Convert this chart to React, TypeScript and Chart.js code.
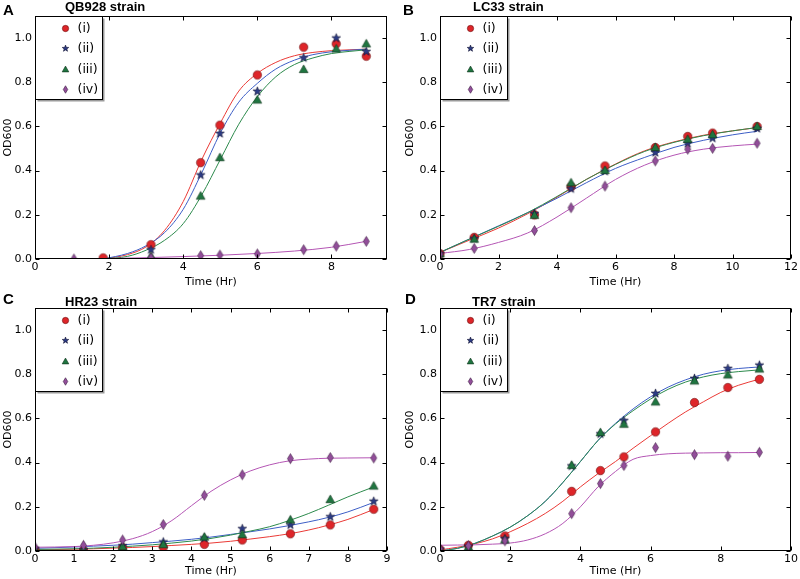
import React, { useEffect, useRef } from "react";
import { Chart, registerables } from "chart.js";
Chart.register(...registerables);

// ---------------- Panel A : QB928 strain ----------------
const A_TIME = [1.05, 1.84, 3.13, 4.47, 4.99, 6.0, 7.25, 8.13, 8.94];
const A_I = [null, 0.005, 0.065, 0.436, 0.606, 0.833, 0.959, 0.974, 0.918];
const A_II = [null, null, 0.042, 0.38, 0.568, 0.759, 0.911, 1.0, 0.939];
const A_III = [null, null, 0.012, 0.285, 0.459, 0.72, 0.858, 0.951, 0.974];
const A_IV = [0.0, null, 0.006, 0.015, 0.018, 0.023, 0.042, 0.058, 0.08];
const A_FIT_TIME = [1.84, 2.5, 3, 3.5, 4, 4.5, 5, 5.5, 6, 6.5, 7, 7.5, 8, 8.5, 8.94];
const A_FIT_I = [0.0, 0.02, 0.055, 0.13, 0.26, 0.45, 0.615, 0.76, 0.84, 0.89, 0.92, 0.935, 0.943, 0.947, 0.95];
const A_FIT_II = [0.0, 0.025, 0.06, 0.12, 0.225, 0.39, 0.57, 0.71, 0.795, 0.86, 0.9, 0.925, 0.938, 0.945, 0.95];
const A_FIT_III = [0.0, 0.012, 0.04, 0.085, 0.16, 0.29, 0.45, 0.61, 0.735, 0.825, 0.88, 0.91, 0.93, 0.94, 0.947];
const A_FIT_IV_TIME = [1.05, 2, 3, 4, 5, 6, 7, 8, 8.94];
const A_FIT_IV = [0.0, 0.002, 0.006, 0.011, 0.017, 0.025, 0.036, 0.053, 0.08];

// ---------------- Panel B : LC33 strain ----------------
const B_TIME = [0, 1.17, 3.23, 4.48, 5.64, 7.36, 8.47, 9.32, 10.84];
const B_I = [0.024, 0.098, 0.2, 0.327, 0.421, 0.505, 0.555, 0.57, 0.6];
const B_II = [0.024, 0.092, 0.205, 0.318, 0.397, 0.482, 0.523, 0.547, 0.591];
const B_III = [0.024, 0.09, 0.198, 0.345, 0.401, 0.505, 0.542, 0.563, 0.6];
const B_IV = [0.022, 0.048, 0.129, 0.232, 0.33, 0.444, 0.497, 0.501, 0.524];
const B_FIT_TIME = [0, 1, 2, 3, 4, 5, 6, 7, 8, 9, 10, 10.84];
const B_FIT_I = [0.03, 0.085, 0.14, 0.205, 0.28, 0.36, 0.43, 0.49, 0.53, 0.56, 0.58, 0.595];
const B_FIT_II = [0.03, 0.09, 0.15, 0.21, 0.275, 0.345, 0.41, 0.46, 0.505, 0.537, 0.562, 0.578];
const B_FIT_III = [0.03, 0.09, 0.148, 0.21, 0.283, 0.36, 0.428, 0.487, 0.528, 0.558, 0.58, 0.595];
const B_FIT_IV = [0.025, 0.043, 0.075, 0.118, 0.19, 0.275, 0.36, 0.425, 0.47, 0.497, 0.512, 0.52];

// ---------------- Panel C : HR23 strain ----------------
const C_TIME = [0, 1.24, 2.24, 3.28, 4.33, 5.3, 6.53, 7.55, 8.66];
const C_I = [0.003, 0.002, 0.015, 0.017, 0.03, 0.05, 0.078, 0.118, 0.189];
const C_II = [0.01, 0.006, 0.023, 0.041, 0.059, 0.101, 0.118, 0.155, 0.225];
const C_III = [0.008, 0.005, 0.02, 0.029, 0.063, 0.074, 0.141, 0.233, 0.294];
const C_IV = [0.018, 0.026, 0.05, 0.12, 0.252, 0.345, 0.418, 0.423, 0.421];
const C_FIT_TIME = [0, 1, 1.5, 2, 2.5, 3, 3.5, 4, 4.5, 5, 5.5, 6, 6.5, 7, 7.5, 8, 8.66];
const C_FIT_I = [0.005, 0.008, 0.01, 0.013, 0.016, 0.02, 0.025, 0.03, 0.036, 0.044, 0.054, 0.065, 0.078, 0.095, 0.117, 0.143, 0.188];
const C_FIT_II = [0.012, 0.018, 0.022, 0.026, 0.031, 0.038, 0.045, 0.053, 0.063, 0.075, 0.087, 0.1, 0.115, 0.132, 0.152, 0.177, 0.22];
const C_FIT_III = [0.007, 0.01, 0.013, 0.017, 0.022, 0.028, 0.036, 0.045, 0.057, 0.072, 0.09, 0.11, 0.138, 0.17, 0.207, 0.245, 0.29];
const C_FIT_IV = [0.017, 0.02, 0.026, 0.037, 0.056, 0.088, 0.138, 0.205, 0.27, 0.322, 0.362, 0.39, 0.408, 0.416, 0.42, 0.421, 0.422];

// ---------------- Panel D : TR7 strain ----------------
const D_TIME = [0, 0.81, 1.85, 3.75, 4.57, 5.24, 6.14, 7.25, 8.2, 9.1];
const D_I = [0.006, 0.026, 0.068, 0.27, 0.364, 0.426, 0.539, 0.672, 0.74, 0.777];
const D_II = [0.008, 0.021, 0.056, 0.385, 0.53, 0.59, 0.713, 0.781, 0.826, 0.841];
const D_III = [0.006, 0.018, 0.05, 0.388, 0.536, 0.574, 0.675, 0.77, 0.797, 0.824];
const D_IV = [0.01, 0.024, 0.046, 0.169, 0.305, 0.387, 0.468, 0.436, 0.429, 0.447];
const D_FIT_TIME = [0, 0.5, 1, 1.5, 2, 2.5, 3, 3.5, 4, 4.5, 5, 5.5, 6, 6.5, 7, 7.5, 8, 8.5, 9.1];
const D_FIT_I = [0.005, 0.017, 0.033, 0.055, 0.087, 0.125, 0.17, 0.225, 0.29, 0.35, 0.405, 0.465, 0.522, 0.578, 0.63, 0.675, 0.718, 0.75, 0.778];
const D_FIT_II = [0.0, 0.012, 0.035, 0.068, 0.108, 0.16, 0.225, 0.31, 0.405, 0.5, 0.578, 0.643, 0.698, 0.742, 0.775, 0.8, 0.816, 0.826, 0.833];
const D_FIT_III = [0.0, 0.012, 0.035, 0.068, 0.108, 0.16, 0.225, 0.31, 0.405, 0.5, 0.575, 0.635, 0.688, 0.732, 0.765, 0.788, 0.803, 0.812, 0.82];
const D_FIT_IV = [0.026, 0.027, 0.028, 0.031, 0.036, 0.05, 0.078, 0.125, 0.2, 0.29, 0.36, 0.415, 0.432, 0.44, 0.443, 0.444, 0.445, 0.445, 0.446];

// ---------------- labels ----------------
const SERIES_LABELS = ["(i)", "(ii)", "(iii)", "(iv)"];
const X_TITLE = "Time (Hr)";
const Y_TITLE = "OD600";
const Y_MAX = 1.1;
const Y_STEP = 0.2;

const LINE_COLORS = ["#ea3a36", "#3d5ec6", "#2c8a4c", "#b455b4"];
const MARKER_FILLS = ["#de2529", "#2c3c86", "#1f7540", "#924e9a"];
const MARKER_EDGES = ["#6a1010", "#101030", "#0c3018", "#3a1a40"];
const MARKER_KINDS = ["circle", "star", "triangle", "diamond"];

const TICK_FONT = "'DejaVu Sans', sans-serif";
const BOLD_FONT = "'Liberation Sans', Arial, sans-serif";

type Area = { l: number; t: number; r: number; b: number };
type PanelCfg = {
  left: number; top: number; w: number; h: number; area: Area;
  xMax: number; xStep: number;
  letter: string; letterX: number; letterY: number;
  title: string; titleX: number; titleY: number;
  time: number[]; series: (number | null)[][];
  fitTimes: number[][]; fits: number[][];
};

const PANELS: PanelCfg[] = [
  {
    left: 0, top: 0, w: 400, h: 290, area: { l: 35, t: 16, r: 387, b: 259 },
    xMax: 9.5, xStep: 2, letter: "A", letterX: 3, letterY: 15, title: "QB928 strain", titleX: 65, titleY: 11,
    time: A_TIME, series: [A_I, A_II, A_III, A_IV],
    fitTimes: [A_FIT_TIME, A_FIT_TIME, A_FIT_TIME, A_FIT_IV_TIME], fits: [A_FIT_I, A_FIT_II, A_FIT_III, A_FIT_IV],
  },
  {
    left: 400, top: 0, w: 400, h: 290, area: { l: 40, t: 16, r: 392, b: 259 },
    xMax: 12, xStep: 2, letter: "B", letterX: 3, letterY: 15, title: "LC33 strain", titleX: 73, titleY: 11,
    time: B_TIME, series: [B_I, B_II, B_III, B_IV],
    fitTimes: [B_FIT_TIME, B_FIT_TIME, B_FIT_TIME, B_FIT_TIME], fits: [B_FIT_I, B_FIT_II, B_FIT_III, B_FIT_IV],
  },
  {
    left: 0, top: 290, w: 400, h: 289, area: { l: 35, t: 18, r: 387, b: 261 },
    xMax: 9, xStep: 1, letter: "C", letterX: 3, letterY: 13.5, title: "HR23 strain", titleX: 65, titleY: 15.5,
    time: C_TIME, series: [C_I, C_II, C_III, C_IV],
    fitTimes: [C_FIT_TIME, C_FIT_TIME, C_FIT_TIME, C_FIT_TIME], fits: [C_FIT_I, C_FIT_II, C_FIT_III, C_FIT_IV],
  },
  {
    left: 400, top: 290, w: 400, h: 289, area: { l: 40, t: 18, r: 392, b: 261 },
    xMax: 10, xStep: 2, letter: "D", letterX: 5, letterY: 13.5, title: "TR7 strain", titleX: 72, titleY: 15.5,
    time: D_TIME, series: [D_I, D_II, D_III, D_IV],
    fitTimes: [D_FIT_TIME, D_FIT_TIME, D_FIT_TIME, D_FIT_TIME], fits: [D_FIT_I, D_FIT_II, D_FIT_III, D_FIT_IV],
  },
];

function makeMarker(kind: string, fill: string, edge: string, s: number): HTMLCanvasElement {
  const c = document.createElement("canvas");
  c.width = 13; c.height = 13;
  const g = c.getContext("2d")!;
  const cx = 6.5, cy = 6.5;
  g.beginPath();
  if (kind === "circle") {
    g.arc(cx, cy, 4.2 * s, 0, Math.PI * 2);
  } else if (kind === "star") {
    for (let k = 0; k < 10; k++) {
      const r = (k % 2 === 0 ? 4.6 : 1.9) * s;
      const a = -Math.PI / 2 + (k * Math.PI) / 5;
      const px = cx + r * Math.cos(a), py = cy + r * Math.sin(a);
      if (k === 0) g.moveTo(px, py); else g.lineTo(px, py);
    }
    g.closePath();
  } else if (kind === "triangle") {
    g.moveTo(cx, cy - 4.6 * s);
    g.lineTo(cx + 4.4 * s, cy + 3.2 * s);
    g.lineTo(cx - 4.4 * s, cy + 3.2 * s);
    g.closePath();
  } else {
    g.moveTo(cx, cy - 5 * s);
    g.lineTo(cx + 3 * s, cy);
    g.lineTo(cx, cy + 5 * s);
    g.lineTo(cx - 3 * s, cy);
    g.closePath();
  }
  g.fillStyle = fill;
  g.fill();
  g.lineWidth = 0.6;
  g.strokeStyle = edge;
  g.stroke();
  return c;
}

function Panel({ cfg }: { cfg: PanelCfg }) {
  const ref = useRef<HTMLCanvasElement>(null);
  useEffect(() => {
    const markers = MARKER_KINDS.map((k, i) => makeMarker(k, MARKER_FILLS[i], MARKER_EDGES[i], 1));
    const legendMarkers = MARKER_KINDS.map((k, i) => makeMarker(k, MARKER_FILLS[i], MARKER_EDGES[i], 0.75));
    const { area, w, h } = cfg;

    const markerSets: any[] = [];
    for (let i = 3; i >= 0; i--) {
      const pts = cfg.time
        .map((t, j) => ({ x: t, y: cfg.series[i][j] }))
        .filter((p) => p.y !== null && p.y !== undefined);
      markerSets.push({
        label: SERIES_LABELS[i],
        data: pts,
        showLine: false,
        pointStyle: markers[i],
        pointRadius: 4,
        pointHoverRadius: 4,
        clip: 0,
      });
    }
    const lineSets: any[] = [];
    for (let i = 3; i >= 0; i--) {
      lineSets.push({
        label: SERIES_LABELS[i] + " fit",
        data: cfg.fitTimes[i].map((t, j) => ({ x: t, y: cfg.fits[i][j] })),
        showLine: true,
        borderColor: LINE_COLORS[i],
        borderWidth: 1,
        pointRadius: 0,
        pointHoverRadius: 0,
        fill: false,
        cubicInterpolationMode: "monotone",
        clip: 0,
      });
    }

    const decor = {
      id: "decor",
      afterDatasetsDraw(chart: any) {
        const ctx = chart.ctx;
        const ca = chart.chartArea;
        const xs = chart.scales.x, ys = chart.scales.y;
        ctx.save();
        ctx.strokeStyle = "#000";
        ctx.lineWidth = 1;
        const L = Math.round(ca.left) + 0.5, R = Math.round(ca.right) - 0.5;
        const T = Math.round(ca.top) + 0.5, B = Math.round(ca.bottom) - 0.5;
        ctx.strokeRect(L, T, R - L, B - T);
        ctx.beginPath();
        xs.ticks.forEach((t: any) => {
          const px = Math.round(xs.getPixelForValue(t.value)) + 0.5;
          ctx.moveTo(px, B); ctx.lineTo(px, B - 4);
          ctx.moveTo(px, T); ctx.lineTo(px, T + 4);
        });
        ys.ticks.forEach((t: any) => {
          const py = Math.round(ys.getPixelForValue(t.value)) + 0.5;
          ctx.moveTo(L, py); ctx.lineTo(L + 4, py);
          ctx.moveTo(R, py); ctx.lineTo(R - 4, py);
        });
        ctx.stroke();

        // legend box
        const lx = L, ly = T, lw = 67, lh = 83;
        ctx.fillStyle = "#9a9a9a";
        ctx.fillRect(lx + 2, ly + 2, lw, lh);
        ctx.fillStyle = "#fff";
        ctx.fillRect(lx, ly, lw, lh);
        ctx.strokeStyle = "#000";
        ctx.strokeRect(lx, ly, lw, lh);
        ctx.font = `12.5px ${TICK_FONT}`;
        ctx.textBaseline = "middle";
        ctx.textAlign = "left";
        ctx.fillStyle = "#000";
        for (let i = 0; i < 4; i++) {
          const my = ly + 11.5 + 20.5 * i;
          const m = legendMarkers[i];
          ctx.drawImage(m, Math.round(lx + 30 - m.width / 2), Math.round(my - m.height / 2));
          ctx.fillText(SERIES_LABELS[i], lx + 42, my + 0.5);
        }

        // panel letter and title
        ctx.textBaseline = "alphabetic";
        ctx.font = `bold 15px ${BOLD_FONT}`;
        ctx.fillText(cfg.letter, cfg.letterX, cfg.letterY);
        ctx.font = `bold 13px ${BOLD_FONT}`;
        ctx.fillText(cfg.title, cfg.titleX, cfg.titleY);
        ctx.restore();
      },
    };

    const chart = new Chart(ref.current!, {
      type: "scatter",
      data: { datasets: [...markerSets, ...lineSets] },
      options: {
        animation: false,
        responsive: false,
        maintainAspectRatio: false,
        events: [],
        layout: { padding: { left: 0, top: area.t, right: w - area.r, bottom: 0 } },
        plugins: {
          legend: { display: false },
          tooltip: { enabled: false },
          title: { display: false },
        },
        scales: {
          x: {
            type: "linear",
            min: 0,
            max: cfg.xMax,
            grid: { display: false, drawTicks: false },
            border: { display: false },
            ticks: {
              stepSize: cfg.xStep,
              includeBounds: false,
              padding: 2,
              maxRotation: 0,
              autoSkip: false,
              color: "#000",
              font: { family: TICK_FONT, size: 11 },
              callback: (v: any) => String(Math.round(Number(v))),
            },
            title: {
              display: true,
              text: X_TITLE,
              color: "#000",
              font: { family: TICK_FONT, size: 11 },
              padding: { top: 0, bottom: 1.5 },
            },
            afterFit: (s: any) => { s.height = h - area.b; },
          },
          y: {
            type: "linear",
            min: 0,
            max: Y_MAX,
            grid: { display: false, drawTicks: false },
            border: { display: false },
            ticks: {
              stepSize: Y_STEP,
              includeBounds: false,
              padding: 3,
              autoSkip: false,
              color: "#000",
              font: { family: TICK_FONT, size: 11 },
              callback: (v: any) => Number(v).toFixed(1),
            },
            title: {
              display: true,
              text: Y_TITLE,
              color: "#000",
              font: { family: TICK_FONT, size: 11 },
              padding: { top: cfg.area.l > 37 ? 3.5 : 1.5, bottom: 0 },
            },
            afterFit: (s: any) => { s.width = area.l; },
          },
        },
      } as any,
      plugins: [decor],
    });
    return () => chart.destroy();
  }, [cfg]);

  return (
    <canvas
      ref={ref}
      width={cfg.w}
      height={cfg.h}
      style={{ position: "absolute", left: cfg.left, top: cfg.top, width: cfg.w, height: cfg.h }}
    />
  );
}

export default function App() {
  return (
    <div style={{ position: "fixed", left: 0, top: 0, width: 800, height: 579, background: "#fff", overflow: "hidden" }}>
      {PANELS.map((p) => (
        <Panel key={p.letter} cfg={p} />
      ))}
    </div>
  );
}
